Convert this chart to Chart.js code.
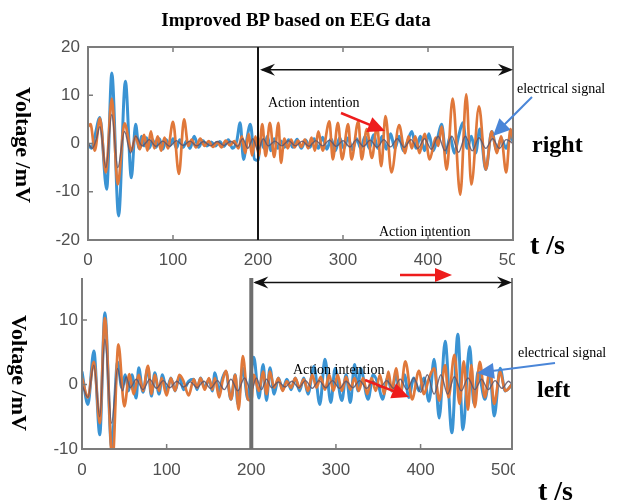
<!DOCTYPE html>
<html><head><meta charset="utf-8">
<script src="https://cdn.jsdelivr.net/npm/chart.js@4.4.0/dist/chart.umd.min.js"></script>
<style>
html,body{margin:0;padding:0;background:#fff;}
#wrap{position:relative;width:623px;height:504px;overflow:hidden;background:#fff;}
canvas{position:absolute;}
#c1{left:0;top:0;}
#c2{left:0;top:260px;}
#ov{position:absolute;left:0;top:0;pointer-events:none;}
</style></head><body>
<div id="wrap">
<canvas id="c1" width="515" height="275"></canvas>
<canvas id="c2" width="515" height="230"></canvas>
<svg id="ov" width="623" height="504" xmlns="http://www.w3.org/2000/svg">
  <g font-family="'Liberation Serif','Times New Roman',serif" fill="#000">
    <text x="296" y="26" font-size="19" font-weight="bold" text-anchor="middle">Improved BP based on EEG data</text>
    <text x="23" y="145" font-size="22" font-weight="bold" text-anchor="middle" dominant-baseline="central" transform="rotate(90 23 145)">Voltage /mV</text>
    <text x="19" y="373" font-size="22" font-weight="bold" text-anchor="middle" dominant-baseline="central" transform="rotate(90 19 373)">Voltage /mV</text>
    <text x="532" y="152" font-size="24" font-weight="bold">right</text>
    <text x="530" y="254" font-size="28" font-weight="bold">t /s</text>
    <text x="537" y="397" font-size="24" font-weight="bold">left</text>
    <text x="538" y="500" font-size="28" font-weight="bold">t /s</text>
    <text x="268" y="107" font-size="14">Action intention</text>
    <text x="379" y="236" font-size="14">Action intention</text>
    <text x="293" y="374" font-size="14">Action intention</text>
    <text x="517" y="93" font-size="14">electrical signal</text>
    <text x="518" y="357" font-size="14">electrical signal</text>
  </g>
  <g id="arrows"></g>
</svg>
</div>
<script>
// ---------- data (time in s, voltage in mV) ----------
const xTicksTop = [0, 100, 200, 300, 400, 500];
const yTicksTop = [-20, -10, 0, 10, 20];
const yTicksBottom = [-10, 0, 10];

const topOrangeT = [0,3,8,14,21,28,35,43,51,56,61,66,70,74,78,82,86,90,94,100,107,113,118,122,127,132,137,142,147,152,157,162,167,172,177,181,185,189,193,197,201,205,209,214,219,224,227,231,235,239,243,247,251,255,259,263,267,271,276,284,288,294,299,306,310,318,322,328,334,340,345,350,357,366,373,377,381,385,390,396,402,409,412,416,422,429,438,445,451,460,468,475,481,486,492,497,500];
const topOrangeV = [3.5,4,-1.5,5.2,-6,9.3,-8.5,4.2,-1.5,1.5,-1.2,1.8,-1.5,2.5,-1,1.5,-1.5,1.2,-1,4.5,-6.3,5,-0.5,0.8,-0.8,1,-0.5,0.5,-0.7,0.3,-0.8,0.6,-0.4,0.5,-1,1.5,-2,2,-2.5,1.5,-2.5,4,-2.6,4.3,-2.8,4.3,-4,1,-1,0.8,-0.8,0.6,-0.7,0.8,-1,1.2,-1.5,2.5,-1.5,4.6,-3.3,4.3,-3.3,4,-3.3,4.6,-3.3,3,-3,3.6,-4.7,5.7,-6,3.8,-2,1.5,-1,1.5,-2,2,-3.3,1.2,-0.5,3.5,-5.4,9.3,-10.6,10.2,-8.5,7.7,-5.4,2.5,-2,1.5,-6,3,1];

const topBlueT = [0,4,8,14,22,28,36,44,51,56,60,63,66,69,72,76,80,84,88,92,96,100,104,108,112,116,120,125,130,135,140,145,150,155,160,165,170,175,179,183,187,191,196,200,203,207,211,215,219,223,227,231,236,241,246,251,256,261,266,271,276,281,286,291,296,301,306,311,316,321,326,331,336,341,346,351,356,361,366,371,376,381,386,391,396,401,406,411,416,421,426,431,436,441,446,451,456,461,468,475,481,486,492,497,500];
const topBlueV = [0,-1,1.5,5.4,-9.5,14.6,-15,12.9,-7.1,4,-1,1.5,-0.5,1.2,-1,0.8,-0.8,1,-1.2,0.8,-0.5,1,-1,0.8,-0.8,0.5,-1,1.5,-0.8,0.6,-0.5,0.3,-0.5,0.4,-0.6,0.8,-1,0.5,4.3,-3.3,1,4,-3.3,-3.5,1,-1,1.5,-1.5,1,-1,0.5,-0.8,0.8,-0.8,0.9,-1,0.7,-0.8,1,-1,1.3,-1.2,1,-1.5,1.2,-1,1.2,-1.3,1,-1,1.5,-1,1.8,-1,1.5,-1.2,2,-1,1.5,-1.5,0.5,2.5,-1,1.5,-1.5,2,-1.5,1,4,-2,1.5,-2,1.5,4.3,-1,1.5,-2,3,-5.4,2.5,-1.5,1,-1,1.5,0.5];

const topDarkT = [0,5,10,14,21,28,35,43,50,56,64,72,80,88,96,104,112,120,128,136,144,152,160,168,176,182,188,194,200,206,212,220,228,236,244,252,260,268,276,284,292,300,308,316,324,332,340,348,356,364,372,380,388,396,404,412,420,428,436,444,452,460,468,476,484,492,500];
const topDarkV = [0,-1,1,3.5,-5,6,-5,2.5,-2,1.5,-0.5,0.8,-0.6,0.5,-0.6,0.6,-0.4,0.5,-0.5,0.4,-0.5,0.4,-0.4,0.5,-0.6,1,-1,1,-1.5,1,-0.5,0.5,-0.5,0.6,-0.5,0.5,-0.6,0.6,-0.5,0.7,-0.6,0.6,-0.7,0.8,-0.6,0.7,-0.8,0.8,-0.7,1,-0.8,0.8,-1,1,-1.2,1.5,-1.5,1.5,-1.8,1.5,-1.5,1.2,-1,1,-1,0.8,0];

const botBlueT = [0,7,14,21,27,35,42,47,51,55,59,64,67,72,78,82,86,91,95,100,105,110,115,120,126,132,136,140,145,150,154,157,162,166,170,176,181,184,190,196,199,203,209,214,218,222,227,232,237,242,247,252,257,262,267,274,281,287,294,299,307,312,317,322,326,329,338,344,350,355,361,366,371,376,381,386,392,398,404,410,416,422,429,437,444,450,458,463,468,476,482,487,494,500,508];
const botBlueV = [2,-3.1,5.2,-7.8,11.1,-9.8,3.5,-0.5,1.5,-1,1.5,-2.1,2.6,-1.2,2.5,-1.8,1.8,-1.5,1.5,-1,1,-1,1.2,-0.8,0.5,0.8,-0.8,1,-0.5,0.8,-1,1.8,-1,1,2,-2.3,1.5,-3,2.5,-2.3,1,4.2,-2.1,3.1,-2.5,2.6,-1.5,1,-0.8,0.8,-0.8,1,-1,1,-1.5,2.8,-3.1,3.9,-2.8,2.5,-2.5,1.5,-2.8,3.1,-1,2.5,-2.3,1.5,0,-2.3,1,-1,1.5,-1.5,1.5,-2,1,-1,1,-2.6,3.9,-5.2,6.7,-7.5,7.8,-7,5.9,-3,2,-2.3,1.5,-4.9,2.5,-1,0];

const botOrangeT = [0,7,14,21,27,36,43,50,56,61,67,72,78,82,86,91,94,100,105,110,115,120,126,132,136,140,145,150,154,157,162,166,170,176,181,185,190,196,200,203,209,214,218,222,227,232,237,242,247,252,257,262,267,272,277,282,287,292,297,302,307,312,317,322,327,332,337,342,347,352,357,362,366,371,376,382,390,398,404,410,416,422,429,433,440,446,451,456,460,464,470,476,482,487,494,500,508];
const botOrangeV = [1,-2,3.5,-6,10.3,-12,6.2,-3.4,1.6,-1.5,1.5,-1,2.9,-1.5,1.5,-1,1,-1.7,1,-1,1.5,0.5,-1.7,0.8,-0.5,1,-0.8,1,-0.8,1,-2,0.5,2.1,-2.3,1.5,-3.9,4.4,-2.3,-2.5,1.5,-1,2,-1.5,2,-0.5,1,-1,0.5,-0.5,1,-0.5,0.8,-1,1.5,-0.5,1.2,-0.8,1.5,-1,1.5,-1,1.2,-0.8,1,-1,1,-1.5,1,-1,1.5,-1.5,2,-1,2.5,-1.5,3.6,-2.3,2.1,-1.5,1,2.5,-2.5,3,-2,4.6,-3,3.6,-3.9,3,-3.5,3.5,-2,2.5,-3,2,-1,0];

const botDarkT = [0,7,14,21,27,35,42,48,52,57,64,72,80,88,96,104,112,120,128,136,144,152,160,168,176,184,192,200,206,212,218,224,232,240,248,256,264,272,280,288,296,304,312,320,328,336,344,352,360,368,376,384,392,400,408,416,424,432,440,448,456,464,472,480,488,496,504,508];
const botDarkV = [0,-2,3,-5,7,-6,2.5,-1,1.2,-0.5,0.8,-0.8,0.8,-0.6,0.6,-0.5,0.5,-0.4,0.4,-0.5,0.5,-0.6,0.6,-0.8,0.8,-1,1,-1,1,-0.8,0.8,-0.5,0.4,-0.4,0.5,-0.5,0.6,-0.6,0.6,-0.5,0.6,-0.6,0.5,-0.5,0.6,-0.6,0.5,-0.5,0.6,-0.6,0.8,-0.8,1,-1.2,1.5,-1.5,1.5,-1.5,1.2,-1,1,-0.8,0.8,-0.8,0.6,-0.6,0.5,0];

// ---------- helpers ----------
function pts(t, v) { return t.map((x, i) => ({ x: x, y: v[i] })); }

function head(ctx, tx, ty, dx, len, hw, notch) {
  ctx.beginPath();
  ctx.moveTo(tx, ty);
  ctx.lineTo(tx - dx * len, ty - hw);
  ctx.lineTo(tx - dx * notch, ty);
  ctx.lineTo(tx - dx * len, ty + hw);
  ctx.closePath();
  ctx.fill();
}

function deco(cfg) {
  return {
    id: 'deco',
    afterDatasetsDraw(chart) {
      const ctx = chart.ctx, a = chart.chartArea, xs = chart.scales.x, ys = chart.scales.y;
      ctx.save();
      ctx.strokeStyle = '#7c7c7c'; ctx.lineWidth = 2;
      ctx.beginPath();
      if (cfg.fullBox) {
        ctx.rect(a.left, a.top, a.right - a.left, a.bottom - a.top);
      } else {
        ctx.moveTo(a.left, a.top); ctx.lineTo(a.left, a.bottom); ctx.lineTo(a.right, a.bottom); ctx.lineTo(a.right, a.top);
      }
      ctx.stroke();
      ctx.lineWidth = 1.5;
      ctx.beginPath();
      [100, 200, 300, 400].forEach(v => {
        const p = xs.getPixelForValue(v);
        ctx.moveTo(p, a.bottom); ctx.lineTo(p, a.bottom - 5);
        if (cfg.fullBox) { ctx.moveTo(p, a.top); ctx.lineTo(p, a.top + 5); }
      });
      cfg.yTicks.forEach(v => {
        const p = ys.getPixelForValue(v);
        if (p > a.top + 2 && p < a.bottom - 2) { ctx.moveTo(a.left, p); ctx.lineTo(a.left + 5, p); }
      });
      ctx.stroke();
      const vx = xs.getPixelForValue(200);
      ctx.strokeStyle = cfg.markColor; ctx.lineWidth = cfg.markWidth;
      ctx.beginPath(); ctx.moveTo(vx, a.top); ctx.lineTo(vx, a.bottom); ctx.stroke();
      const ay = ys.getPixelForValue(cfg.arrowY);
      ctx.strokeStyle = '#111'; ctx.fillStyle = '#111'; ctx.lineWidth = 1.6;
      ctx.beginPath(); ctx.moveTo(vx + 4, ay); ctx.lineTo(a.right - 4, ay); ctx.stroke();
      head(ctx, vx + 2, ay, -1, 15, 6, 10);
      head(ctx, a.right, ay, 1, 15, 6, 10);
      ctx.restore();
    }
  };
}

function build(id, cfg) {
  const font = { family: "'Liberation Sans', Arial, sans-serif", size: 17 };
  return new Chart(document.getElementById(id), {
    type: 'line',
    data: { datasets: [
      { data: pts(cfg.darkT, cfg.darkV), borderColor: 'rgba(95,85,105,0.85)', borderWidth: 1.4 },
      { data: pts(cfg.orangeT, cfg.orangeV), borderColor: '#e0783a', borderWidth: 2.7 },
      { data: pts(cfg.blueT, cfg.blueV), borderColor: '#3a93d3', borderWidth: 3 }
    ] },
    options: {
      responsive: false, animation: false, events: [],
      layout: { padding: { top: cfg.padTop, right: cfg.padRight, left: 0, bottom: 0 } },
      elements: { point: { radius: 0 }, line: { cubicInterpolationMode: 'monotone', fill: false } },
      plugins: { legend: { display: false }, tooltip: { enabled: false }, title: { display: false } },
      scales: {
        x: {
          type: 'linear', min: 0, max: cfg.xMax,
          grid: { display: false, drawTicks: false }, border: { display: false },
          ticks: { stepSize: 100, padding: cfg.xPad, maxRotation: 0, autoSkip: false, color: '#505050', font: font },
          afterBuildTicks: s => { s.ticks = xTicksTop.map(v => ({ value: v })); },
          afterFit: s => { s.height = cfg.xAxisH; s.paddingLeft = 0; s.paddingRight = 0; }
        },
        y: {
          type: 'linear', min: cfg.yMin, max: cfg.yMax,
          grid: { display: false, drawTicks: false }, border: { display: false },
          ticks: { stepSize: 10, padding: cfg.yPad, color: '#505050', font: font },
          afterBuildTicks: s => { s.ticks = cfg.yTicks.map(v => ({ value: v })); },
          afterFit: s => { s.width = cfg.yAxisW; s.paddingTop = 0; s.paddingBottom = 0; }
        }
      }
    },
    plugins: [deco(cfg)]
  });
}

build('c1', {
  darkT: topDarkT, darkV: topDarkV, orangeT: topOrangeT, orangeV: topOrangeV, blueT: topBlueT, blueV: topBlueV,
  xMax: 500, yMin: -20, yMax: 20, yTicks: yTicksTop,
  padTop: 47, padRight: 2, xAxisH: 35, yAxisW: 88, xPad: 10, yPad: 8,
  fullBox: true, markColor: '#151515', markWidth: 2, arrowY: 15.3
});
build('c2', {
  darkT: botDarkT, darkV: botDarkV, orangeT: botOrangeT, orangeV: botOrangeV, blueT: botBlueT, blueV: botBlueV,
  xMax: 508, yMin: -10, yMax: 16.5, yTicks: yTicksBottom,
  padTop: 18, padRight: 3, xAxisH: 41, yAxisW: 82, xPad: 11, yPad: 4,
  fullBox: false, markColor: '#6e6e6e', markWidth: 4, arrowY: 15.8
});

// ---------- annotation arrows (overlay) ----------
const NS = 'http://www.w3.org/2000/svg';
const g = document.getElementById('arrows');
function svgArrow(x1, y1, x2, y2, color, w, len, hw) {
  const dx = x2 - x1, dy = y2 - y1, L = Math.hypot(dx, dy), ux = dx / L, uy = dy / L;
  const bx = x2 - ux * len, by = y2 - uy * len;
  const line = document.createElementNS(NS, 'line');
  line.setAttribute('x1', x1); line.setAttribute('y1', y1);
  line.setAttribute('x2', bx + ux * 2); line.setAttribute('y2', by + uy * 2);
  line.setAttribute('stroke', color); line.setAttribute('stroke-width', w);
  g.appendChild(line);
  const poly = document.createElementNS(NS, 'polygon');
  poly.setAttribute('points', [x2, y2, bx - uy * hw, by + ux * hw, bx + uy * hw, by - ux * hw].join(','));
  poly.setAttribute('fill', color);
  g.appendChild(poly);
}
svgArrow(341, 113, 385, 131, '#ee1c1c', 2.5, 17, 8);
svgArrow(532, 97, 493, 136, '#4a86d8', 2, 17, 8);
svgArrow(400, 275, 452, 275, '#ee1c1c', 2.5, 17, 7);
svgArrow(365, 380, 409, 397, '#ee1c1c', 2.5, 17, 8);
svgArrow(555, 363, 477, 373, '#4a86d8', 2, 17, 8);
</script>
</body></html>
